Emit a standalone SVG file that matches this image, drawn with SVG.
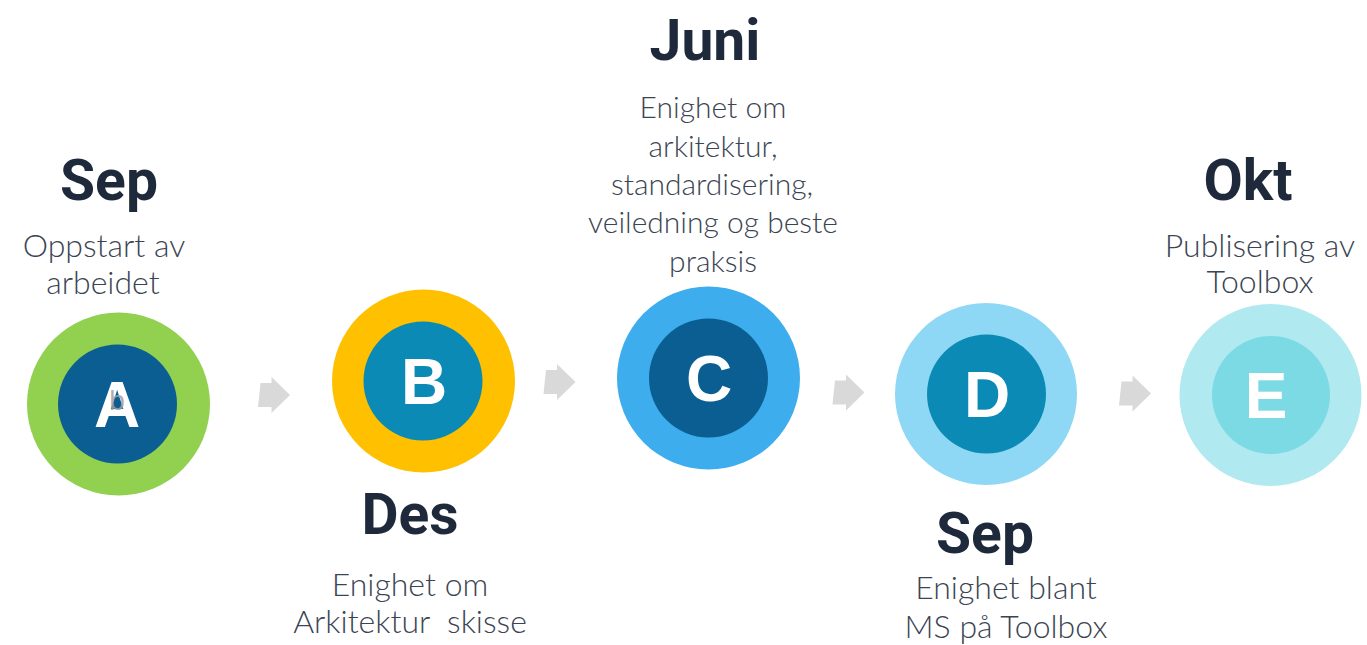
<svg xmlns="http://www.w3.org/2000/svg" width="1367" height="645" viewBox="0 0 1367 645">
<defs>
<style>
.h{font-family:Roboto,"Liberation Sans",sans-serif;font-weight:700;font-size:57px;fill:#1E2A3B;text-anchor:middle}
.t{font-family:Lato,"Liberation Sans",sans-serif;font-weight:300;font-size:32px;fill:#3B4452;text-anchor:middle}
.s{font-size:30px}
.l{font-family:"Liberation Sans",Arial,sans-serif;font-weight:700;font-size:64px;fill:#FFFFFF;text-anchor:middle}
.arr{fill:#D9D9D9}
</style>
<path id="arrow" d="M2.5,-12 L13.5,-12 L13.5,-18 L32,0 L13.5,18 L13.5,12 L0,12 Z"/>
</defs>
<rect width="1367" height="645" fill="#FFFFFF"/>
<g id="connectors" class="arr">
<use href="#arrow" transform="translate(258,395)"/>
<use href="#arrow" transform="translate(543.5,382)"/>
<use href="#arrow" transform="translate(832.5,392.5)"/>
<use href="#arrow" transform="translate(1119,393.5)"/>
</g>
<g id="nodeA">
<circle cx="118.5" cy="404" r="91.5" fill="#92D050"/>
<circle cx="117.5" cy="404" r="59.5" fill="#0B5E91"/>
<text class="l" x="117" y="427">A</text>
<text x="117" y="410" font-family="Liberation Sans,Arial,sans-serif" font-size="28" fill="#A0A0A0" fill-opacity="0.85" text-anchor="middle">b</text>
<text class="h" x="109" y="200">Sep</text>
<text class="t" x="104" y="257">Oppstart av</text>
<text class="t" x="103" y="294">arbeidet</text>
</g>
<g id="nodeB">
<circle cx="423.5" cy="381" r="91.5" fill="#FFC000"/>
<circle cx="423" cy="381" r="59.5" fill="#0B8AB5"/>
<text class="l" x="424" y="404">B</text>
<text class="h" x="410" y="534">Des</text>
<text class="t" x="410" y="596">Enighet om</text>
<text class="t" x="410" y="633" xml:space="preserve">Arkitektur  skisse</text>
</g>
<g id="nodeC">
<circle cx="708.5" cy="378" r="91.5" fill="#3DADEE"/>
<circle cx="708.5" cy="378" r="59.5" fill="#0B5E91"/>
<text class="l" x="709" y="401">C</text>
<text class="h" x="705" y="60">Juni</text>
<text class="t s" x="713" y="118">Enighet om</text>
<text class="t s" x="713" y="157">arkitektur,</text>
<text class="t s" x="712" y="195">standardisering,</text>
<text class="t s" x="713" y="233">veiledning og beste</text>
<text class="t s" x="713" y="272">praksis</text>
</g>
<g id="nodeD">
<circle cx="986" cy="394" r="91" fill="#8FD8F5"/>
<circle cx="986.5" cy="394" r="59.5" fill="#0B8AB5"/>
<text class="l" x="987" y="417">D</text>
<text class="h" x="985" y="553">Sep</text>
<text class="t" x="1006" y="599">Enighet blant</text>
<text class="t" x="1006" y="638">MS på Toolbox</text>
</g>
<g id="nodeE">
<circle cx="1270.5" cy="395" r="91" fill="#B0E9EF"/>
<circle cx="1271" cy="395" r="59" fill="#7CDAE4"/>
<text class="l" x="1266" y="418">E</text>
<text class="h" x="1248" y="200">Okt</text>
<text class="t" x="1260" y="257">Publisering av</text>
<text class="t" x="1260" y="293">Toolbox</text>
</g>
</svg>
